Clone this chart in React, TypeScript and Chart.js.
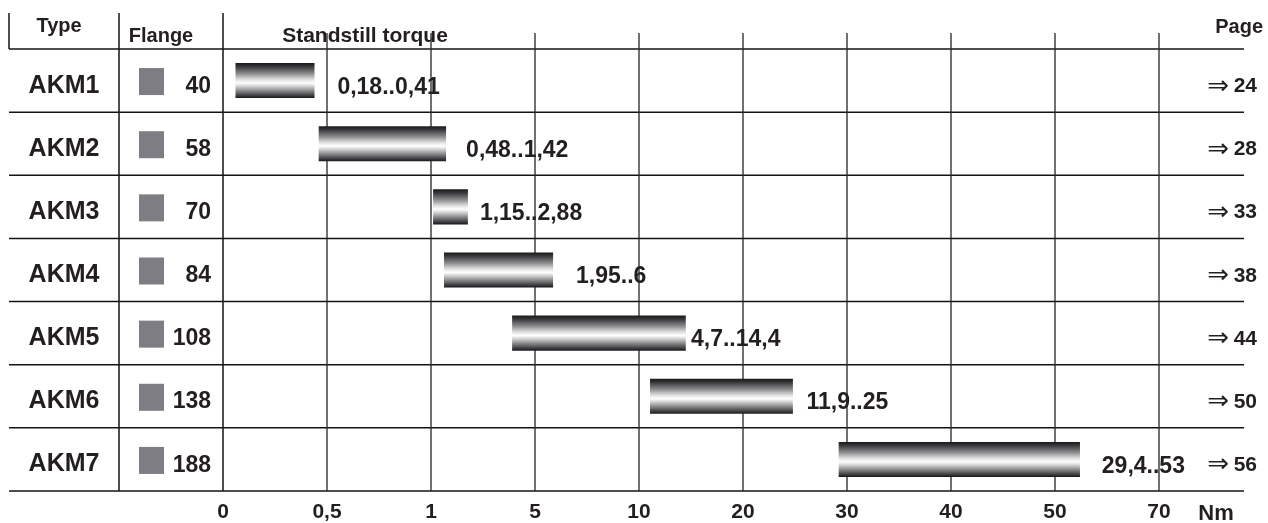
import React, { useEffect, useRef } from 'react';
import { Chart, registerables, LinearScale } from 'chart.js';

// ---- data ----
const TYPES = ['AKM1', 'AKM2', 'AKM3', 'AKM4', 'AKM5', 'AKM6', 'AKM7'];
const FLANGES = ['40', '58', '70', '84', '108', '138', '188'];
const TORQUE_TEXT = ['0,18..0,41', '0,48..1,42', '1,15..2,88', '1,95..6', '4,7..14,4', '11,9..25', '29,4..53'];
const BAR_START = [0.06, 0.46, 1.08, 1.5, 4.12, 11.06, 29.2];
const BAR_END = [0.44, 1.58, 2.42, 5.87, 14.5, 24.8, 54.8];
const LABEL_AT = [0.55, 2.35, 2.88, 6.97, 15, 26.1, 59];
const PAGES = ['24', '28', '33', '38', '44', '50', '56'];
const TICK_VALUES = [0, 0.5, 1, 5, 10, 20, 30, 40, 50, 70];
const UNIT = 'Nm';

const TEXT = '#231f20';
const FONT = '"Liberation Sans", Arial, sans-serif';

function valueToIndex(v: number): number {
  const n = TICK_VALUES.length;
  if (v <= TICK_VALUES[0]) return 0;
  for (let i = 1; i < n; i++) {
    if (v <= TICK_VALUES[i]) {
      const a = TICK_VALUES[i - 1], b = TICK_VALUES[i];
      return i - 1 + (v - a) / (b - a);
    }
  }
  const a = TICK_VALUES[n - 2], b = TICK_VALUES[n - 1];
  return n - 1 + (v - b) / (b - a);
}
function indexToValue(idx: number): number {
  const n = TICK_VALUES.length;
  const i = Math.max(0, Math.min(n - 2, Math.floor(idx)));
  const a = TICK_VALUES[i], b = TICK_VALUES[i + 1];
  return a + (idx - i) * (b - a);
}

class PiecewiseScale extends LinearScale {
  static id = 'piecewise';
  static defaults = {};
  buildTicks() {
    return TICK_VALUES.map((value) => ({ value }));
  }
  getPixelForValue(value: number) {
    return this.getPixelForDecimal(valueToIndex(value) / (TICK_VALUES.length - 1));
  }
  getValueForPixel(pixel: number) {
    return indexToValue(this.getDecimalForPixel(pixel) * (TICK_VALUES.length - 1));
  }
}

Chart.register(...registerables, PiecewiseScale as any);

const BAR_PCT = 0.555;

const tablePlugin = {
  id: 'torqueTable',
  beforeDatasetsDraw(chart: any) {
    const { ctx, chartArea } = chart;
    const xs = chart.scales.x;
    const ys = chart.scales.y;
    const centers = TYPES.map((_, i) => ys.getPixelForValue(i));
    const bounds = [chartArea.top];
    for (let i = 1; i < centers.length; i++) bounds.push((centers[i - 1] + centers[i]) / 2);
    bounds.push(chartArea.bottom);

    const leftEdge = 9;
    const typeDiv = 119;
    const x0 = xs.getPixelForValue(TICK_VALUES[0]);
    const rightEdge = 1244;
    const headTop = 13;
    const gridTop = 33;

    ctx.save();
    ctx.fillStyle = TEXT;
    ctx.textBaseline = 'alphabetic';

    // headers
    ctx.font = `bold 20px ${FONT}`;
    ctx.textAlign = 'center';
    ctx.fillText('Type', 59, 32);
    ctx.fillText('Flange', 161, 42);
    ctx.font = `bold 21px ${FONT}`;
    ctx.fillText('Standstill torque', 365, 42);
    ctx.font = `bold 20px ${FONT}`;
    ctx.textAlign = 'right';
    ctx.fillText('Page', 1263, 33);

    centers.forEach((cy, i) => {
      // type
      ctx.fillStyle = TEXT;
      ctx.font = `bold 25px ${FONT}`;
      ctx.textAlign = 'center';
      ctx.fillText(TYPES[i], 64, cy + 3 + 9);
      // flange square
      ctx.fillStyle = '#7e7d83';
      ctx.fillRect(139, cy - 12.5, 25, 27);
      ctx.fillStyle = TEXT;
      ctx.font = `bold 23px ${FONT}`;
      ctx.textAlign = 'right';
      ctx.fillText(FLANGES[i], 211, cy + 4 + 8.2);
      // torque label
      ctx.textAlign = 'left';
      ctx.fillText(TORQUE_TEXT[i], xs.getPixelForValue(LABEL_AT[i]), cy + 5 + 8.2);
      // page
      ctx.font = `bold 21px ${FONT}`;
      ctx.textAlign = 'right';
      ctx.fillText(PAGES[i], 1257, cy + 4 + 7.5);
      ctx.font = `26px "DejaVu Sans", ${FONT}`;
      ctx.fillText('\u21D2', 1229, cy + 4 + 9);
    });

    // unit
    ctx.font = `bold 22px ${FONT}`;
    ctx.textAlign = 'center';
    ctx.fillText(UNIT, 1216, 520);

    // lines
    ctx.strokeStyle = '#141414';
    ctx.lineWidth = 1.5;
    ctx.beginPath();
    bounds.forEach((b) => {
      ctx.moveTo(leftEdge, b);
      ctx.lineTo(rightEdge, b);
    });
    ctx.moveTo(leftEdge, headTop);
    ctx.lineTo(leftEdge, chartArea.top);
    ctx.moveTo(typeDiv, headTop);
    ctx.lineTo(typeDiv, chartArea.bottom);
    ctx.moveTo(x0, headTop);
    ctx.lineTo(x0, chartArea.bottom);
    ctx.stroke();

    ctx.strokeStyle = '#262626';
    ctx.lineWidth = 1.3;
    ctx.beginPath();
    TICK_VALUES.slice(1).forEach((v) => {
      const px = xs.getPixelForValue(v);
      ctx.moveTo(px, gridTop);
      ctx.lineTo(px, chartArea.bottom);
    });
    ctx.stroke();
    ctx.restore();
  },
};

function barGradient(c: any) {
  const chart = c.chart;
  const ys = chart.scales?.y;
  if (!ys || c.dataIndex === undefined || !chart.chartArea) return '#888888';
  const cy = ys.getPixelForValue(c.dataIndex);
  const h = (ys.height / TYPES.length) * BAR_PCT;
  const g = chart.ctx.createLinearGradient(0, cy - h / 2, 0, cy + h / 2);
  g.addColorStop(0, '#18181a');
  g.addColorStop(0.1, '#38383b');
  g.addColorStop(0.3, '#8c8c8f');
  g.addColorStop(0.47, '#e0e0e0');
  g.addColorStop(0.57, '#ffffff');
  g.addColorStop(0.67, '#cdcdcd');
  g.addColorStop(0.85, '#69696c');
  g.addColorStop(1, '#18181a');
  return g;
}

export default function App() {
  const ref = useRef<HTMLCanvasElement | null>(null);
  useEffect(() => {
    if (!ref.current) return;
    const chart = new Chart(ref.current, {
      type: 'bar',
      data: {
        labels: TYPES,
        datasets: [
          {
            data: BAR_START.map((s, i) => [s, BAR_END[i]]) as any,
            backgroundColor: barGradient as any,
            borderWidth: 0,
            barPercentage: BAR_PCT,
            categoryPercentage: 1,
          },
        ],
      },
      options: {
        indexAxis: 'y',
        animation: false,
        responsive: true,
        maintainAspectRatio: false,
        events: [],
        layout: { padding: { left: 223, right: 109, top: 49, bottom: 0 } },
        plugins: { legend: { display: false }, tooltip: { enabled: false } },
        scales: {
          y: { type: 'category', display: false, offset: true },
          x: {
            type: 'piecewise' as any,
            min: 0,
            max: 70,
            position: 'bottom',
            grid: { display: false, drawTicks: false },
            border: { display: false },
            ticks: {
              autoSkip: false,
              maxRotation: 0,
              padding: 9,
              color: TEXT,
              font: { family: FONT, size: 21, weight: 'bold' },
              callback: (v: any) => String(v).replace('.', ','),
            },
            afterFit: (s: any) => {
              s.height = 32;
            },
          } as any,
        },
      },
      plugins: [tablePlugin],
    });
    return () => chart.destroy();
  }, []);
  return (
    <div style={{ position: 'fixed', left: 0, top: 0, width: 1268, height: 523, background: '#fff' }}>
      <canvas ref={ref} style={{ display: 'block' }} />
    </div>
  );
}
